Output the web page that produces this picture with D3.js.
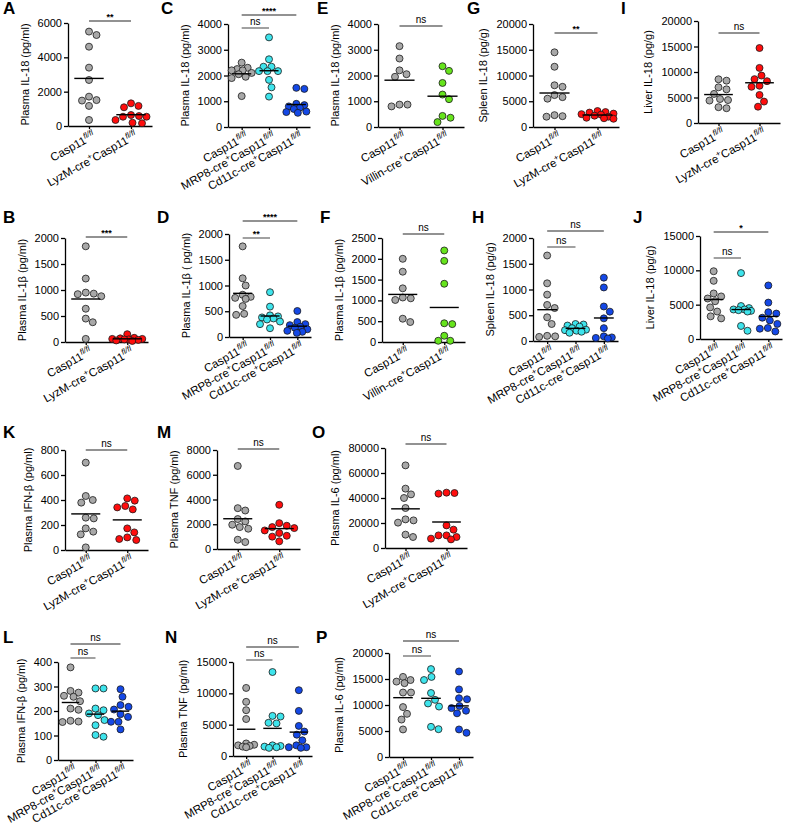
<!DOCTYPE html>
<html>
<head>
<meta charset="utf-8">
<script src="https://cdn.jsdelivr.net/npm/d3@7"></script>
<style>
  body { margin: 0; background: #fff; }
  text { font-family: "Liberation Sans", Arial, sans-serif; font-variant-ligatures: none; }
</style>
</head>
<body>
<svg id="fig" width="786" height="825"></svg>
<script>
// categories
var catLyz = ["Casp11", "LyzM-cre+Casp11"];
var catVil = ["Casp11", "Villin-cre+Casp11"];
var catCre = ["Casp11", "MRP8-cre+Casp11", "Cd11c-cre+Casp11"];

// values, one array per group
var dataA = [[5300, 5500, 4620, 3400, 2680, 1510, 1710, 1480, 1170, 350],
             [1090, 1170, 1320, 640, 540, 540, 580, 190, 350, 160]];
var dataC = [[2500, 2300, 2250, 2200, 2200, 2100, 2050, 1950, 1900, 1200],
             [3480, 2630, 2340, 2340, 2170, 2170, 2170, 1830, 1540, 1180],
             [1520, 1480, 900, 850, 800, 750, 700, 600, 580, 550]];
var dataE = [[3140, 2660, 2050, 2200, 1950, 800, 870, 870],
             [2180, 2360, 1710, 1260, 1080, 430, 360, 190]];
var dataG = [[14500, 11700, 8100, 7800, 6200, 5800, 5500, 2300, 2100, 2000],
             [3100, 2900, 2800, 2600, 2500, 2400, 2200, 2000, 1800, 1700, 1600]];
var dataI = [[8570, 8300, 7000, 6600, 5700, 4500, 4400, 4700, 2900, 3100],
             [14700, 10800, 9300, 8600, 8200, 7300, 7100, 5500, 4200, 3200]];
var dataB = [[1840, 1220, 950, 930, 920, 880, 640, 450, 380, 60],
             [150, 80, 70, 60, 60, 50, 50, 40, 30, 20]];
var dataD = [[1760, 1140, 1000, 820, 780, 760, 740, 600, 450, 430],
             [870, 590, 420, 400, 380, 360, 340, 300, 250, 170],
             [505, 290, 250, 230, 200, 180, 150, 120, 100, 80]];
var dataF = [[2000, 1690, 1290, 1070, 1050, 1010, 560, 480],
             [2200, 1950, 1400, 450, 430, 150, 30, 30]];
var dataH = [[1660, 1120, 900, 700, 640, 460, 330, 100, 90, 80],
             [330, 320, 300, 280, 250, 220, 210, 200, 180, 160],
             [1230, 1040, 670, 570, 440, 250, 90, 70, 60, 50]];
var dataJ = [[9870, 8470, 6630, 6200, 5900, 5500, 4600, 4000, 3300, 3000],
             [9600, 4800, 4500, 4300, 4300, 4200, 4100, 4000, 1900, 1200],
             [7800, 5300, 3900, 3700, 3100, 2700, 2200, 1600, 1500, 1100]];
var dataK = [[699, 432, 400, 379, 259, 253, 173, 125, 147, 21],
             [395, 413, 341, 352, 325, 173, 101, 141, 80, 88]];
var dataM = [[6710, 3300, 3110, 2420, 2230, 1960, 1770, 1640, 750, 560],
             [3570, 2090, 1880, 1770, 1690, 1500, 1290, 1070, 1000, 620]];
var dataO = [[66100, 42900, 47500, 40000, 32000, 22100, 22900, 20300, 8800, 10700],
             [43500, 44000, 44300, 18100, 14700, 10100, 10100, 7500, 8800, 6900]];
var dataL = [[378, 282, 275, 262, 258, 240, 210, 205, 157, 155, 160],
             [292, 292, 203, 210, 190, 183, 163, 142, 95, 102],
             [289, 258, 224, 217, 206, 187, 176, 156, 156, 125]];
var dataN = [[10860, 8640, 7310, 5900, 2000, 1800, 1700, 1600, 1500, 1400],
             [13400, 6400, 6300, 5300, 5200, 1700, 1600, 1500, 1400, 1300],
             [10500, 7200, 4800, 3900, 3400, 2500, 1700, 1400, 1400, 1300]];
var dataP = [[15400, 14800, 14500, 14200, 12400, 12400, 9600, 8300, 7200, 5300],
             [16900, 14800, 15400, 12300, 11000, 9700, 10300, 5350, 5800],
             [16450, 13000, 11100, 11300, 9400, 9800, 8400, 8900, 5300, 4650]];

// significance comparisons (group a vs group b)
var sig2 = function(t) { return [{a: 0, b: 1, t: t}]; };
var sig3 = function(t1, t2) { return [{a: 0, b: 2, t: t1}, {a: 0, b: 1, t: t2}]; };

var colors = {
  "Casp11": "#a8a8a8",
  "LyzM-cre+Casp11": "#ff0d0d",
  "Villin-cre+Casp11": "#66e41c",
  "MRP8-cre+Casp11": "#3ee4ec",
  "Cd11c-cre+Casp11": "#1448e6"
};

var panels = [
  {id: "A", title: "Plasma IL-18 (pg/ml)", cats: catLyz, data: dataA, max: 6000, step: 2000, sig: sig2("**"), sy: [-2],
   x0: 68, x1: 152, yt: 23, yb: 126, lx: 3, ly: 14},
  {id: "C", title: "Plasma IL-18 (pg/ml)", cats: catCre, data: dataC, max: 4000, step: 1000, sig: sig3("****", "ns"), sy: [-9, 4],
   x0: 228, x1: 310, yt: 24, yb: 127, lx: 161, ly: 14},
  {id: "E", title: "Plasma IL-18 (pg/ml)", cats: catVil, data: dataE, max: 4000, step: 1000, sig: sig2("ns"), sy: [2],
   x0: 378, x1: 464, yt: 24, yb: 127, lx: 317, ly: 14},
  {id: "G", title: "Spleen IL-18 (pg/g)", cats: catLyz, data: dataG, max: 20000, step: 5000, sig: sig2("**"), sy: [9],
   x0: 533, x1: 619, yt: 24, yb: 127, lx: 467, ly: 14},
  {id: "I", title: "Liver IL-18 (pg/g)", cats: catLyz, data: dataI, max: 20000, step: 5000, sig: sig2("ns"), sy: [12],
   x0: 698, x1: 780, yt: 21, yb: 123, lx: 621, ly: 14},
  {id: "B", title: "Plasma IL-1\u03b2 (pg/ml)", cats: catLyz, data: dataB, max: 2000, step: 500, sig: sig2("***"), sy: [-1],
   x0: 65, x1: 148, yt: 238, yb: 342, lx: 3, ly: 223},
  {id: "D", title: "Plasma IL-1\u03b2 ( pg/ml)", cats: catCre, data: dataD, max: 2000, step: 500, sig: sig3("****", "**"), sy: [-13, 4],
   x0: 229, x1: 311, yt: 234, yb: 337, lx: 157, ly: 223},
  {id: "F", title: "Plasma IL-1\u03b2 (pg/ml)", cats: catVil, data: dataF, max: 2500, step: 500, sig: sig2("ns"), sy: [-4],
   x0: 382, x1: 465, yt: 238, yb: 342, lx: 320, ly: 223},
  {id: "H", title: "Spleen IL-18 (pg/g)", cats: catCre, data: dataH, max: 2000, step: 500, sig: sig3("ns", "ns"), sy: [-7, 9],
   x0: 533, x1: 618, yt: 238, yb: 341, lx: 472, ly: 223},
  {id: "J", title: "Liver IL-18 (pg/g)", cats: catCre, data: dataJ, max: 15000, step: 5000, sig: sig3("*", "ns"), sy: [-4, 22],
   x0: 700, x1: 782, yt: 236, yb: 339, lx: 633, ly: 223},
  {id: "K", title: "Plasma IFN-\u03b2 (pg/ml)", cats: catLyz, data: dataK, max: 800, step: 200, sig: sig2("ns"), sy: [0],
   x0: 65, x1: 148, yt: 450, yb: 550, lx: 3, ly: 438},
  {id: "M", title: "Plasma TNF (pg/ml)", cats: catLyz, data: dataM, max: 8000, step: 2000, sig: sig2("ns"), sy: [-1],
   x0: 217, x1: 300, yt: 450, yb: 549, lx: 157, ly: 438},
  {id: "O", title: "Plasma IL-6 (pg/ml)", cats: catLyz, data: dataO, max: 80000, step: 20000, sig: sig2("ns"), sy: [-4],
   x0: 385, x1: 467, yt: 448, yb: 548, lx: 312, ly: 438},
  {id: "L", title: "Plasma IFN-\u03b2 (pg/ml)", cats: catCre, data: dataL, max: 400, step: 100, sig: sig3("ns", "ns"), sy: [-18, -4],
   x0: 58, x1: 133, yt: 662, yb: 760, lx: 3, ly: 643},
  {id: "N", title: "Plasma TNF (pg/ml)", cats: catCre, data: dataN, max: 15000, step: 5000, sig: sig3("ns", "ns"), sy: [-15, -2],
   x0: 233, x1: 312, yt: 662, yb: 756, lx: 165, ly: 643},
  {id: "P", title: "Plasma IL-6 (pg/ml)", cats: catCre, data: dataP, max: 20000, step: 5000, sig: sig3("ns", "ns"), sy: [-12, 3],
   x0: 389, x1: 473, yt: 653, yb: 757, lx: 316, ly: 643}
];

var svg = d3.select("#fig");
var R = 3.5;

// beeswarm limited to a band of +-w around the group centre;
// when nothing fits, take the spot with the most room
function swarm(vals, y, w) {
  var pts = vals.map(function(v) { return {v: v, yy: y(v)}; })
    .sort(function(a, b) { return a.yy - b.yy; });
  var placed = [];
  var need = 2 * R + 0.8;
  pts.forEach(function(p) {
    var best = 0, bestD = -1;
    for (var k = 0; k < 400; k++) {
      var c = (k % 2 ? 1 : -1) * Math.ceil(k / 2) * 0.5;
      if (Math.abs(c) > w) break;
      var dmin = d3.min(placed, function(q) { return Math.hypot(q.dx - c, q.yy - p.yy); });
      if (dmin === undefined) dmin = Infinity;
      if (dmin >= need) { best = c; break; }
      if (dmin > bestD) { bestD = dmin; best = c; }
    }
    p.dx = best;
    placed.push(p);
  });
  return placed;
}

function catLabel(sel, name) {
  var parts = name.split("+");
  if (parts.length > 1) {
    sel.append("tspan").text(parts[0]);
    sel.append("tspan").attr("dy", -4.5).attr("font-size", 8).text("+");
    sel.append("tspan").attr("dy", 4.5).text(parts[1]);
  } else {
    sel.append("tspan").text(parts[0]);
  }
  sel.append("tspan").attr("dy", -4.5).attr("font-size", 8).attr("font-style", "italic").text("fl/fl");
}

function drawPanel(p) {
  var g = svg.append("g");
  var x = d3.scalePoint().domain(d3.range(p.cats.length)).range([p.x0, p.x1]).padding(0.5);
  var y = d3.scaleLinear().domain([0, p.max]).range([p.yb, p.yt]);
  var step = x.step();

  var ya = g.append("g")
      .attr("transform", "translate(" + p.x0 + ",0)")
      .call(d3.axisLeft(y).tickValues(d3.range(0, p.max + 1, p.step))
        .tickFormat(d3.format("d")).tickSize(4).tickSizeOuter(0).tickPadding(2));
  ya.selectAll("text").attr("font-size", 11).attr("fill", "#000")
    .style("font-family", "'Liberation Sans', Arial, sans-serif");

  g.append("g")
      .attr("transform", "translate(0," + p.yb + ")")
      .call(d3.axisBottom(x).tickSize(3).tickSizeOuter(0).tickFormat(""));
  g.selectAll(".domain, .tick line").attr("stroke", "#000").attr("stroke-width", 1.3);

  // category labels
  p.cats.forEach(function(c, i) {
    var t = g.append("text")
        .attr("transform", "translate(" + (x(i) + 7) + "," + (p.yb + 12) + ") rotate(-29)")
        .attr("text-anchor", "end")
        .attr("font-size", 11.5)
        .attr("fill", "#000");
    catLabel(t, c);
  });

  // y title
  var digits = String(p.max).length;
  var tx = p.x0 - 5 - digits * 6.12 - 10;
  g.append("text")
      .attr("transform", "translate(" + tx + "," + ((p.yt + p.yb) / 2) + ") rotate(-90)")
      .attr("text-anchor", "middle")
      .attr("font-size", 11)
      .text(p.title);

  // points and means
  p.data.forEach(function(vals, i) {
    var pts = swarm(vals, y, step * 0.38);
    g.selectAll(null).data(pts).enter().append("circle")
        .attr("cx", function(d) { return x(i) + d.dx; })
        .attr("cy", function(d) { return d.yy; })
        .attr("r", R)
        .attr("fill", colors[p.cats[i]])
        .attr("stroke", "#1b1b1b")
        .attr("stroke-width", 0.8);
    var m = d3.mean(vals);
    var hw = step * 0.35;
    g.append("line")
        .attr("x1", x(i) - hw).attr("x2", x(i) + hw)
        .attr("y1", y(m)).attr("y2", y(m))
        .attr("stroke", "#000").attr("stroke-width", 1.4);
  });

  // significance bars
  p.sig.forEach(function(s, k) {
    var yy = p.yt + p.sy[k];
    g.append("line")
        .attr("x1", x(s.a)).attr("x2", x(s.b))
        .attr("y1", yy).attr("y2", yy)
        .attr("stroke", "#6e6e6e").attr("stroke-width", 1.3);
    g.append("text")
        .attr("x", (x(s.a) + x(s.b)) / 2)
        .attr("y", yy - (s.t === "ns" ? 3 : 1))
        .attr("text-anchor", "middle")
        .attr("font-size", s.t === "ns" ? 10 : 9)
        .attr("font-weight", s.t === "ns" ? "normal" : "bold")
        .text(s.t);
  });

  // panel letter
  svg.append("text")
      .attr("x", p.lx).attr("y", p.ly)
      .attr("font-size", 17).attr("font-weight", "bold")
      .text(p.id);
}

panels.forEach(drawPanel);
</script>
</body>
</html>
